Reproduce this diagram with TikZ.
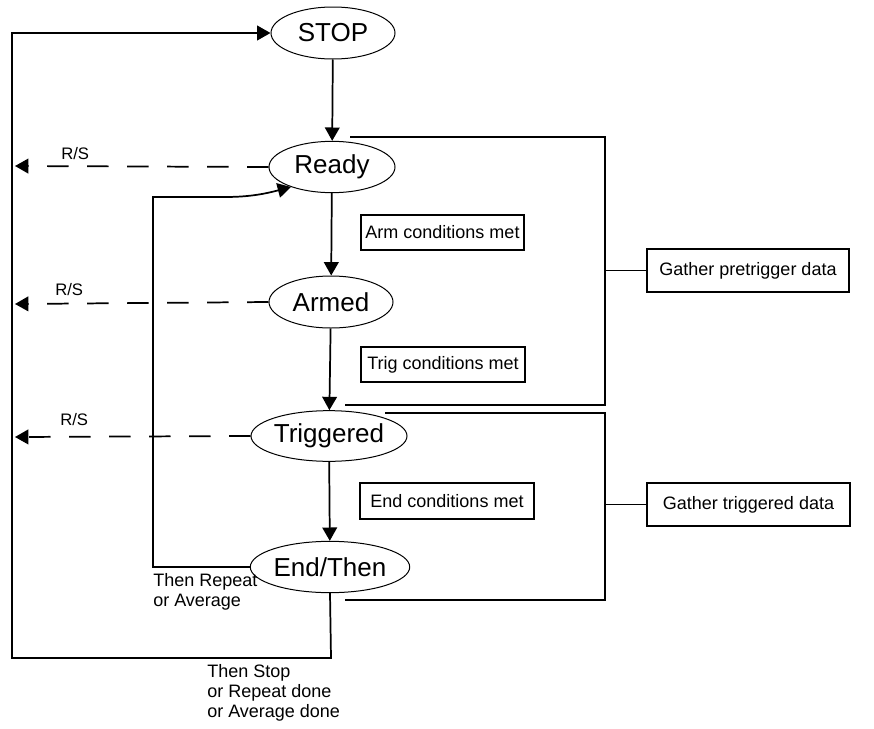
\documentclass[tikz,border=0pt]{standalone}
\usepackage{fontspec}
\setmainfont{Liberation Sans}
\usetikzlibrary{shapes.geometric,arrows.meta}
\begin{document}
\begin{tikzpicture}[x=0.75pt,y=-0.75pt,
  state/.style={ellipse,draw,line width=0.75pt,inner sep=0pt,font=\fontsize{19.5}{22}\selectfont},
  cond/.style={rectangle,draw,line width=1.2pt,inner sep=0pt,font=\fontsize{13.5}{15}\selectfont},
  small/.style={inner sep=0pt,font=\fontsize{13.5}{15}\selectfont,align=left},
  rs/.style={inner sep=0pt,font=\fontsize{12.5}{14}\selectfont},
  line/.style={line width=1.3pt},
  arr/.style={line width=1.3pt,-{Triangle[length=10pt,width=11pt]}},
  darr/.style={arr,dash pattern=on 16pt off 14pt}]
\useasboundingbox (0,0) rectangle (874,728);
% states
\node[state,minimum width=93pt,minimum height=39pt] (stop) at (333,33) {STOP};
\node[state,minimum width=94.5pt,minimum height=38.5pt] (ready) at (332,167) {Ready};
\node[state,minimum width=93pt,minimum height=39pt] (armed) at (331,302) {Armed};
\node[state,minimum width=104pt,minimum height=38pt] (trig) at (329,436) {Triggered};
\node[state,minimum width=109pt,minimum height=38.5pt] (end) at (330,567) {End/Then};
% condition boxes
\node[cond,minimum width=122pt,minimum height=26pt] (armc) at (442.5,232.5) {Arm conditions met};
\node[cond,minimum width=123pt,minimum height=26pt] (trigc) at (443,364.5) {Trig conditions met};
\node[cond,minimum width=130.5pt,minimum height=27pt] (endc) at (447,501) {End conditions met};
\node[cond,minimum width=151.5pt,minimum height=32pt] (pre) at (748,270.5) {Gather pretrigger data};
\node[cond,minimum width=152pt,minimum height=32pt] (gtrig) at (748.5,504.5) {Gather triggered data};
% main flow
\draw[arr] (stop) -- (ready);
\draw[arr] (ready) -- (armed);
\draw[arr] (armed) -- (trig);
\draw[arr] (trig) -- (end);
% R/S dashed arrows
\coordinate (l1) at (15,166);
\coordinate (l2) at (15,304);
\coordinate (l3) at (15,437);
\draw[darr] (ready.west) -- (l1);
\draw[darr] (armed.west) -- (l2);
\draw[darr] (trig.west) -- (l3);
\node[rs,anchor=west] (rs1) at (61,154) {R/S};
\node[rs,anchor=west] (rs2) at (55,290) {R/S};
\node[rs,anchor=west] (rs3) at (60,420) {R/S};
% outer loop to STOP
\draw[arr] (end.south) -- (331,658) -- (12,658) -- (12,33) -- (stop.west);
% inner loop back to Ready
\draw[arr] (end.west) -- (153,567) -- (153,197) -- (225,197)
  .. controls (252,197) and (268,193) .. (ready.206);
% labels
\node[small,anchor=west] (rep) at (153,592) {Then Repeat\\or Average};
\node[small,anchor=west] (stp) at (207,693) {Then Stop\\or Repeat done\\or Average done};
% brackets
\draw[line] (350,137) -- (605,137) -- (605,405) -- (345,405);
\draw[line] (385,413) -- (605,413) -- (605,600) -- (345,600);
\coordinate (b1) at (605,270.5);
\coordinate (b2) at (605,504.5);
\draw[line] (b1) -- (pre.west);
\draw[line] (b2) -- (gtrig.west);
\end{tikzpicture}
\end{document}
